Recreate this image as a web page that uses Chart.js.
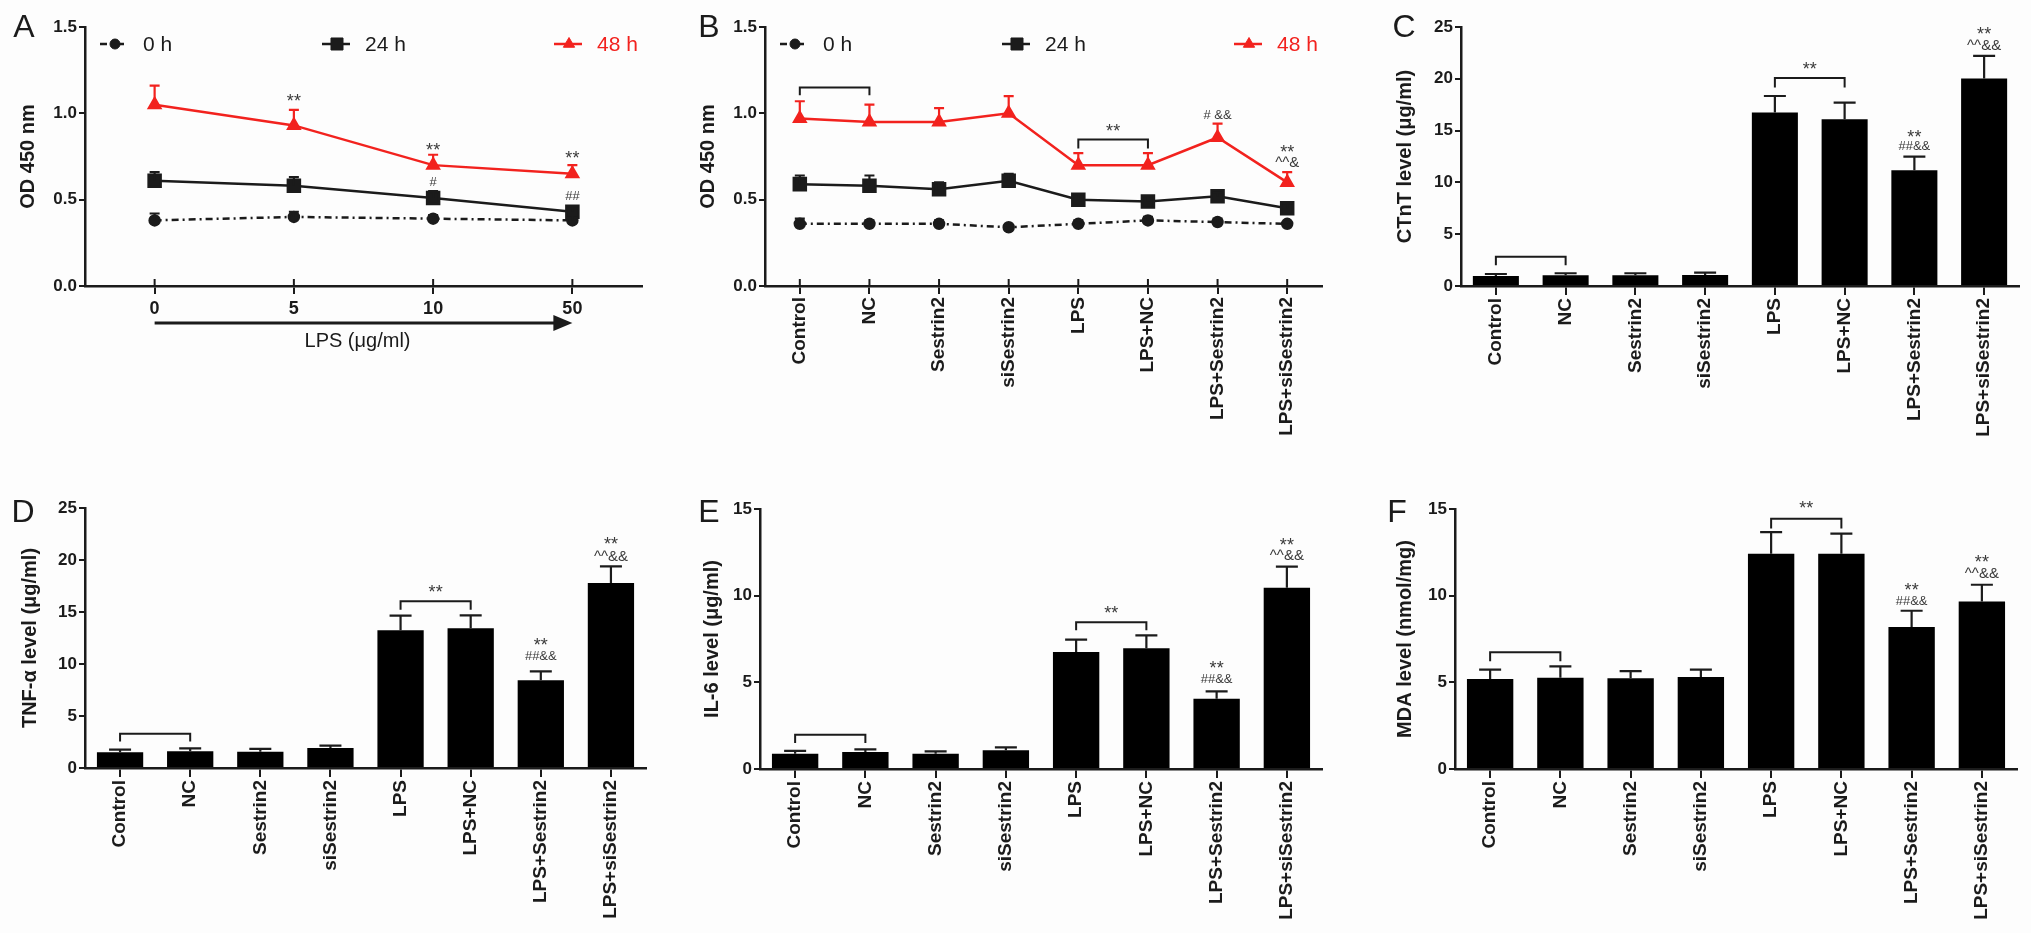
<!DOCTYPE html>
<html>
<head>
<meta charset="utf-8">
<script src="https://cdn.jsdelivr.net/npm/chart.js@4.4.1/dist/chart.umd.min.js"></script>
<style>
  html, body { margin: 0; background: #fff; }
  #fig { position: relative; width: 2031px; height: 933px; background: #fdfdfd; overflow: hidden; }
  #fig canvas { position: absolute; }
</style>
</head>
<body>
<div id="fig">
  <canvas id="panelA" width="677" height="460" style="left:0;top:0"></canvas>
  <canvas id="panelB" width="677" height="460" style="left:677px;top:0"></canvas>
  <canvas id="panelC" width="677" height="460" style="left:1354px;top:0"></canvas>
  <canvas id="panelD" width="677" height="473" style="left:0;top:460px"></canvas>
  <canvas id="panelE" width="677" height="473" style="left:677px;top:460px"></canvas>
  <canvas id="panelF" width="677" height="473" style="left:1354px;top:460px"></canvas>
</div>
<script>
// categories
const doses  = ['0', '5', '10', '50'];
const groups = ['Control', 'NC', 'Sestrin2', 'siSestrin2', 'LPS', 'LPS+NC', 'LPS+Sestrin2', 'LPS+siSestrin2'];
const times  = ['0 h', '24 h', '48 h'];

// A: OD 450 vs LPS dose
const odDose0h     = [0.38, 0.40, 0.39, 0.38];
const odDose0hErr  = [0.04, 0.03, 0.02, 0.03];
const odDose24h    = [0.61, 0.58, 0.51, 0.43];
const odDose24hErr = [0.05, 0.05, 0.04, 0.03];
const odDose48h    = [1.05, 0.93, 0.70, 0.65];
const odDose48hErr = [0.11, 0.09, 0.06, 0.05];
const marksA = [[1, 1.08, '**'], [2, 0.80, '**'], [3, 0.75, '**'], [2, 0.60, '#'], [3, 0.52, '##']];

// B: OD 450 per group
const odGroup0h     = [0.36, 0.36, 0.36, 0.34, 0.36, 0.38, 0.37, 0.36];
const odGroup0hErr  = [0.03, 0.02, 0.02, 0.01, 0.02, 0.02, 0.02, 0.01];
const odGroup24h    = [0.59, 0.58, 0.56, 0.61, 0.50, 0.49, 0.52, 0.45];
const odGroup24hErr = [0.05, 0.06, 0.04, 0.04, 0.03, 0.03, 0.02, 0.03];
const odGroup48h    = [0.97, 0.95, 0.95, 1.00, 0.70, 0.70, 0.86, 0.60];
const odGroup48hErr = [0.10, 0.10, 0.08, 0.10, 0.07, 0.07, 0.08, 0.06];
const bracketsB = [[0, 1, 1.15, 1.105], [4, 5, 0.848, 0.796]];
const marksB = [[4.5, 0.91, '**'], [6, 0.99, '# &&'], [7, 0.79, '**'], [7, 0.713, '^^&']];

// C: CTnT
const ctnt    = [0.96, 1.03, 1.03, 1.06, 16.74, 16.1, 11.18, 20.02];
const ctntErr = [0.2, 0.2, 0.2, 0.23, 1.6, 1.6, 1.3, 2.2];
const bracketsC = [[0, 1, 2.83, 2.0], [4, 5, 20.08, 19.15]];
const marksC = [[4.5, 21.1, '**'], [6, 14.56, '**'], [6, 13.43, '##&&'], [7, 24.5, '**'], [7, 23.2, '^^&&']];

// D: TNF-alpha
const tnf    = [1.51, 1.6, 1.57, 1.92, 13.24, 13.43, 8.43, 17.79];
const tnfErr = [0.25, 0.29, 0.26, 0.23, 1.41, 1.25, 0.86, 1.6];
const bracketsD = [[0, 1, 3.3, 2.56], [4, 5, 16.03, 15.22]];
const marksD = [[4.5, 17.08, '**'], [6, 12.02, '**'], [6, 10.74, '##&&'], [7, 21.7, '**'], [7, 20.35, '^^&&']];

// E: IL-6
const il6    = [0.88, 0.98, 0.88, 1.08, 6.75, 6.96, 4.06, 10.46];
const il6Err = [0.16, 0.15, 0.14, 0.17, 0.71, 0.75, 0.42, 1.21];
const bracketsE = [[0, 1, 1.98, 1.5], [4, 5, 8.46, 8.0]];
const marksE = [[4.5, 9.1, '**'], [6, 5.96, '**'], [6, 5.15, '##&&'], [7, 13.04, '**'], [7, 12.27, '^^&&']];

// F: MDA
const mda    = [5.19, 5.27, 5.23, 5.31, 12.42, 12.42, 8.19, 9.67];
const mdaErr = [0.54, 0.65, 0.42, 0.42, 1.25, 1.16, 0.94, 0.96];
const bracketsF = [[0, 1, 6.73, 6.21], [4, 5, 14.44, 13.87]];
const marksF = [[4.5, 15.15, '**'], [6, 10.44, '**'], [6, 9.67, '##&&'], [7, 12.08, '**'], [7, 11.27, '^^&&']];

const INK  = '#1b1b1b';
const RED  = '#f2221e';
const FONT = "'Liberation Sans', Arial, sans-serif";

// --- plugins ---
const errorBars = {
  id: 'errorBars',
  afterDatasetsDraw(chart, args, opts) {
    const { ctx } = chart;
    const ys = chart.scales.y;
    ctx.save();
    ctx.lineWidth = 2.2;
    opts.errors.forEach((errs, di) => {
      const ds = chart.data.datasets[di];
      const meta = chart.getDatasetMeta(di);
      ctx.strokeStyle = opts.colors[di];
      meta.data.forEach((el, i) => {
        const base = ys.getPixelForValue(ds.data[i]);
        const top = ys.getPixelForValue(ds.data[i] + errs[i]);
        ctx.beginPath();
        ctx.moveTo(el.x, base);
        ctx.lineTo(el.x, top);
        ctx.moveTo(el.x - opts.cap, top);
        ctx.lineTo(el.x + opts.cap, top);
        ctx.stroke();
      });
    });
    ctx.restore();
  }
};

const sigMarks = {
  id: 'sigMarks',
  afterDraw(chart, args, opts) {
    const { ctx } = chart;
    const xs = chart.scales.x, ys = chart.scales.y;
    ctx.save();
    ctx.strokeStyle = INK;
    ctx.lineWidth = 2;
    (opts.brackets || []).forEach(([a, b, v, leg]) => {
      const xa = xs.getPixelForValue(a), xb = xs.getPixelForValue(b);
      const yv = ys.getPixelForValue(v), yl = ys.getPixelForValue(leg);
      ctx.beginPath();
      ctx.moveTo(xa, yl); ctx.lineTo(xa, yv); ctx.lineTo(xb, yv); ctx.lineTo(xb, yl);
      ctx.stroke();
    });
    ctx.textAlign = 'center';
    ctx.textBaseline = 'middle';
    ctx.fillStyle = '#3a3a3a';
    (opts.marks || []).forEach(([i, v, text]) => {
      ctx.font = text === '**' ? `18px ${FONT}` : (text.startsWith('^') ? `15px ${FONT}` : `13px ${FONT}`);
      ctx.fillText(text, xs.getPixelForValue(i), ys.getPixelForValue(v) + (text === '**' ? 3 : 0));
    });
    ctx.restore();
  }
};

const panelTag = {
  id: 'panelTag',
  afterDraw(chart, args, opts) {
    const { ctx } = chart;
    ctx.save();
    ctx.fillStyle = INK;
    ctx.font = `32px ${FONT}`;
    ctx.textAlign = 'center';
    ctx.textBaseline = 'middle';
    ctx.fillText(opts.text, opts.x, opts.y);
    ctx.restore();
  }
};

const timeLegend = {
  id: 'timeLegend',
  afterDraw(chart, args, opts) {
    const { ctx, chartArea } = chart;
    const y = chartArea.top + opts.dy;
    chart.data.datasets.forEach((ds, i) => {
      const x = chartArea.left + opts.xs[i];
      ctx.save();
      ctx.strokeStyle = ds.borderColor;
      ctx.lineWidth = ds.borderWidth;
      ctx.setLineDash(ds.borderDash || []);
      ctx.beginPath();
      ctx.moveTo(x - 15, y); ctx.lineTo(x + 13, y);
      ctx.stroke();
      ctx.setLineDash([]);
      ctx.fillStyle = ds.borderColor;
      ctx.lineWidth = 1;
      Chart.helpers.drawPoint(ctx, { pointStyle: ds.pointStyle, radius: ds.pointRadius, borderWidth: 1 }, x, y);
      ctx.font = `21px ${FONT}`;
      ctx.textAlign = 'left';
      ctx.textBaseline = 'middle';
      ctx.fillText(ds.label, x + 28, y + 1);
      ctx.restore();
    });
  }
};

const crossTicks = {
  id: 'crossTicks',
  afterDraw(chart, args, opts) {
    const { ctx } = chart;
    const xs = chart.scales.x;
    const yb = chart.chartArea.bottom;
    ctx.save();
    ctx.strokeStyle = INK;
    ctx.lineWidth = 2;
    xs.ticks.forEach((t, i) => {
      const px = xs.getPixelForTick(i);
      ctx.beginPath(); ctx.moveTo(px, yb); ctx.lineTo(px, yb - opts.length); ctx.stroke();
    });
    ctx.restore();
  }
};

const doseArrow = {
  id: 'doseArrow',
  afterDraw(chart, args, opts) {
    const { ctx, chartArea } = chart;
    const xs = chart.scales.x;
    const x0 = xs.getPixelForTick(0), x1 = xs.getPixelForTick(xs.ticks.length - 1);
    const y = chartArea.bottom + opts.dy;
    ctx.save();
    ctx.strokeStyle = INK; ctx.fillStyle = INK; ctx.lineWidth = 3;
    ctx.beginPath(); ctx.moveTo(x0, y); ctx.lineTo(x1 - 16, y); ctx.stroke();
    ctx.beginPath(); ctx.moveTo(x1 - 19, y - 8); ctx.lineTo(x1, y); ctx.lineTo(x1 - 19, y + 8); ctx.closePath(); ctx.fill();
    ctx.font = `20px ${FONT}`;
    ctx.textAlign = 'center'; ctx.textBaseline = 'middle';
    ctx.fillText(opts.text, (x0 + x1) / 2 - 6, y + 18);
    ctx.restore();
  }
};

// --- axis builders ---
function yAxis(max, step, lay, title, oneDecimal) {
  return {
    min: 0, max,
    afterFit: s => { s.width = lay.left; },
    border: { display: true, color: INK, width: 2.5 },
    grid: { drawOnChartArea: false, color: INK, lineWidth: 2, tickLength: 6 },
    ticks: {
      stepSize: step, color: INK, padding: 2,
      font: { family: FONT, size: 17, weight: 'bold' },
      callback: v => oneDecimal ? v.toFixed(1) : v
    },
    title: { display: true, text: title, color: INK, padding: { top: lay.titlePad, bottom: 0 },
             font: { family: FONT, size: 20, weight: 'bold' } }
  };
}

function xAxis(lay, rotated, barGrid) {
  return {
    type: 'category', offset: true,
    afterFit: s => { s.height = lay.bottom; },
    border: { display: true, color: INK, width: 2.5 },
    grid: { drawOnChartArea: false, offset: false, color: INK, lineWidth: 2, tickLength: barGrid ? 9 : 8 },
    ticks: {
      color: INK, padding: rotated ? 3 : 4, autoSkip: false,
      minRotation: rotated ? 90 : 0, maxRotation: rotated ? 90 : 0,
      font: { family: FONT, size: rotated ? 19 : 18, weight: 'bold' }
    }
  };
}

function baseOptions(lay) {
  return {
    responsive: false, animation: false,
    layout: { padding: { top: lay.top, right: lay.right, left: 0, bottom: 0 } },
  };
}

function lineSets(d0, d24, d48) {
  return [
    { label: times[0], data: d0, borderColor: INK, backgroundColor: INK, borderWidth: 2.5,
      borderDash: [7, 4, 2, 4], pointStyle: 'circle', pointRadius: 5, order: 3 },
    { label: times[1], data: d24, borderColor: INK, backgroundColor: INK, borderWidth: 2.5,
      pointStyle: 'rect', pointRadius: 8.5, order: 2 },
    { label: times[2], data: d48, borderColor: RED, backgroundColor: RED, borderWidth: 2.5,
      pointStyle: 'triangle', pointRadius: 6.5, order: 1 }
  ];
}

function linePanel(id, labels, sets, errs, lay, tag, extra) {
  const opts = baseOptions(lay);
  opts.scales = { x: xAxis(lay, labels === groups, false), y: yAxis(1.5, 0.5, lay, 'OD 450 nm', true) };
  opts.plugins = Object.assign({
    legend: { display: false }, tooltip: { enabled: false },
    errorBars: { errors: errs, colors: [INK, INK, RED], cap: 5 },
    timeLegend: { xs: [30, 252, 484], dy: 17 },
    crossTicks: { length: 7 },
    panelTag: tag
  }, extra.opts);
  return new Chart(document.getElementById(id), {
    type: 'line',
    data: { labels, datasets: sets },
    options: opts,
    plugins: [errorBars, timeLegend, crossTicks, sigMarks, panelTag].concat(extra.plugins || [])
  });
}

function barPanel(id, values, errs, max, title, brackets, marks, lay, tag) {
  const opts = baseOptions(lay);
  opts.scales = { x: xAxis(lay, true, true), y: yAxis(max, 5, lay, title, false) };
  opts.plugins = {
    legend: { display: false }, tooltip: { enabled: false },
    errorBars: { errors: [errs], colors: [INK], cap: 11 },
    sigMarks: { brackets, marks },
    panelTag: tag
  };
  return new Chart(document.getElementById(id), {
    type: 'bar',
    data: { labels: groups, datasets: [{ data: values, backgroundColor: '#000', borderWidth: 0,
                                          barPercentage: 0.66, categoryPercentage: 1 }] },
    options: opts,
    plugins: [errorBars, sigMarks, panelTag]
  });
}

linePanel('panelA', doses, lineSets(odDose0h, odDose24h, odDose48h),
  [odDose0hErr, odDose24hErr, odDose48hErr],
  { left: 85, right: 35, top: 27, bottom: 174, titlePad: 16 },
  { text: 'A', x: 24, y: 28 },
  { opts: { sigMarks: { marks: marksA }, doseArrow: { dy: 37, text: 'LPS (\u03bcg/ml)' } }, plugins: [doseArrow] });

linePanel('panelB', groups, lineSets(odGroup0h, odGroup24h, odGroup48h),
  [odGroup0hErr, odGroup24hErr, odGroup48hErr],
  { left: 88, right: 32, top: 27, bottom: 174, titlePad: 19 },
  { text: 'B', x: 32, y: 28 },
  { opts: { sigMarks: { brackets: bracketsB, marks: marksB } } });

barPanel('panelC', ctnt, ctntErr, 25, 'CTnT level (\u03bcg/ml)', bracketsC, marksC,
  { left: 107, right: 12, top: 27, bottom: 174, titlePad: 39 }, { text: 'C', x: 50, y: 28 });
barPanel('panelD', tnf, tnfErr, 25, 'TNF-\u03b1 level (\u03bcg/ml)', bracketsD, marksD,
  { left: 85, right: 31, top: 48, bottom: 165, titlePad: 18 }, { text: 'D', x: 23, y: 53 });
barPanel('panelE', il6, il6Err, 15, 'IL-6 level (\u03bcg/ml)', bracketsE, marksE,
  { left: 83, right: 32, top: 49, bottom: 164, titlePad: 23 }, { text: 'E', x: 32, y: 53 });
barPanel('panelF', mda, mdaErr, 15, 'MDA level (nmol/mg)', bracketsF, marksF,
  { left: 101, right: 14, top: 49, bottom: 164, titlePad: 39 }, { text: 'F', x: 43, y: 53 });
</script>
</body>
</html>
